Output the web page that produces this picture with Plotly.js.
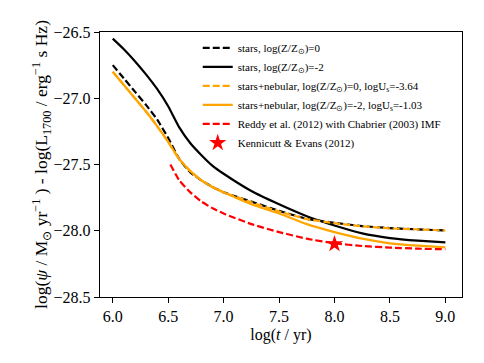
<!DOCTYPE html>
<html>
<head>
<meta charset="utf-8">
<script src="https://cdn.plot.ly/plotly-3.0.1.min.js"></script>
<style>
  html, body { margin: 0; padding: 0; background: #fff; }
  #chart { width: 484px; height: 363px; }
</style>
</head>
<body>
<div id="chart"></div>
<script>
// log(age / yr) grid shared by the model curves
var logAge = [6.0, 6.1, 6.2, 6.3, 6.4, 6.5, 6.6, 6.7, 6.8, 6.9, 7.0, 7.25, 7.5, 7.75, 8.0, 8.25, 8.5, 8.75, 9.0];

// conversion factor log(psi / Msun yr^-1) - log(L1700 / erg s^-1 Hz^-1)
var starsZ0 = [-26.75, -26.85, -26.95, -27.05, -27.16, -27.30, -27.46, -27.56, -27.62, -27.67, -27.71, -27.78, -27.85, -27.91, -27.94, -27.965, -27.98, -27.99, -27.997];
var starsZm2 = [-26.55, -26.63, -26.72, -26.82, -26.93, -27.06, -27.22, -27.34, -27.43, -27.51, -27.57, -27.70, -27.80, -27.89, -27.96, -28.02, -28.055, -28.075, -28.088];
var nebZ0 = [-26.80, -26.90, -27.00, -27.10, -27.21, -27.33, -27.46, -27.55, -27.62, -27.67, -27.71, -27.785, -27.855, -27.912, -27.943, -27.967, -27.982, -27.99, -27.998];
var nebZm2 = [-26.80, -26.90, -27.00, -27.10, -27.21, -27.33, -27.46, -27.55, -27.62, -27.67, -27.71, -27.80, -27.87, -27.95, -28.01, -28.06, -28.095, -28.113, -28.125];

// Reddy et al. (2012), Chabrier IMF
var reddyAge = [6.52, 6.6, 6.7, 6.8, 6.9, 7.0, 7.25, 7.5, 7.75, 8.0, 8.25, 8.5, 8.75, 9.0];
var reddy = [-27.50, -27.62, -27.71, -27.78, -27.83, -27.87, -27.95, -28.01, -28.06, -28.095, -28.115, -28.127, -28.135, -28.14];

// Kennicutt & Evans (2012)
var keAge = [8.0];
var ke = [-28.1];

var seriesNames = [
  'stars, log(Z/Z<sub>⊙</sub>)=0',
  'stars, log(Z/Z<sub>⊙</sub>)=-2',
  'stars+nebular, log(Z/Z<sub>⊙</sub>)=0, logU<sub>s</sub>=-3.64',
  'stars+nebular, log(Z/Z<sub>⊙</sub>)=-2, logU<sub>s</sub>=-1.03',
  'Reddy et al. (2012) with Chabrier (2003) IMF',
  'Kennicutt &amp; Evans (2012)'
];

var FONT = 'Liberation Serif';
var LW = 2.2;

function curve(x, y, name, color, dash) {
  return {
    x: x, y: y, name: name,
    type: 'scatter', mode: 'lines',
    line: { color: color, width: LW, dash: dash, shape: 'spline', smoothing: 0.4 }
  };
}

var traces = [
  curve(logAge, starsZ0, seriesNames[0], '#000000', '7px,3px'),
  curve(logAge, starsZm2, seriesNames[1], '#000000', 'solid'),
  curve(logAge, nebZ0, seriesNames[2], '#ffa500', '7px,3px'),
  curve(logAge, nebZm2, seriesNames[3], '#ffa500', 'solid'),
  curve(reddyAge, reddy, seriesNames[4], '#ff0000', '7px,3px'),
  {
    x: keAge, y: ke, name: seriesNames[5],
    type: 'scatter', mode: 'markers',
    marker: { symbol: 'star', size: 13, color: '#ff0000', line: { width: 0 } }
  }
];

function axis(extra) {
  var ax = {
    showline: true, mirror: true, linecolor: '#000', linewidth: 1.2,
    ticks: 'outside', ticklen: 5, tickwidth: 1, tickcolor: '#000',
    showgrid: false, zeroline: false,
    tickfont: { family: FONT, size: 16, color: '#000' },
    dtick: 0.5, tickformat: '.1f'
  };
  return Object.assign(ax, extra);
}

var layout = {
  width: 484, height: 363,
  margin: { l: 100, r: 22, t: 32, b: 66 },
  paper_bgcolor: '#fff', plot_bgcolor: '#fff',
  font: { family: FONT, color: '#000' },
  xaxis: axis({
    range: [5.885, 9.15], tick0: 6,
    title: { text: 'log(<i>t</i> / yr)', font: { family: FONT, size: 16 }, standoff: 4 }
  }),
  yaxis: axis({
    range: [-28.5, -26.5], tick0: -28.5,
    title: { text: 'log(<i>ψ</i> / M<sub>⊙</sub> yr<sup>−1</sup> ) - log(L<sub>1700</sub> / erg<sup>−1</sup> s Hz)', font: { family: FONT, size: 17.5 }, standoff: 0 }
  }),
  showlegend: true,
  legend: {
    x: 0.27, y: 0.995, xanchor: 'left', yanchor: 'top',
    bgcolor: 'rgba(0,0,0,0)', borderwidth: 0,
    font: { family: FONT, size: 11, color: '#000' },
    itemwidth: 30, tracegroupgap: 0
  }
};

Plotly.newPlot('chart', traces, layout, { displayModeBar: false, staticPlot: true });
</script>
</body>
</html>
